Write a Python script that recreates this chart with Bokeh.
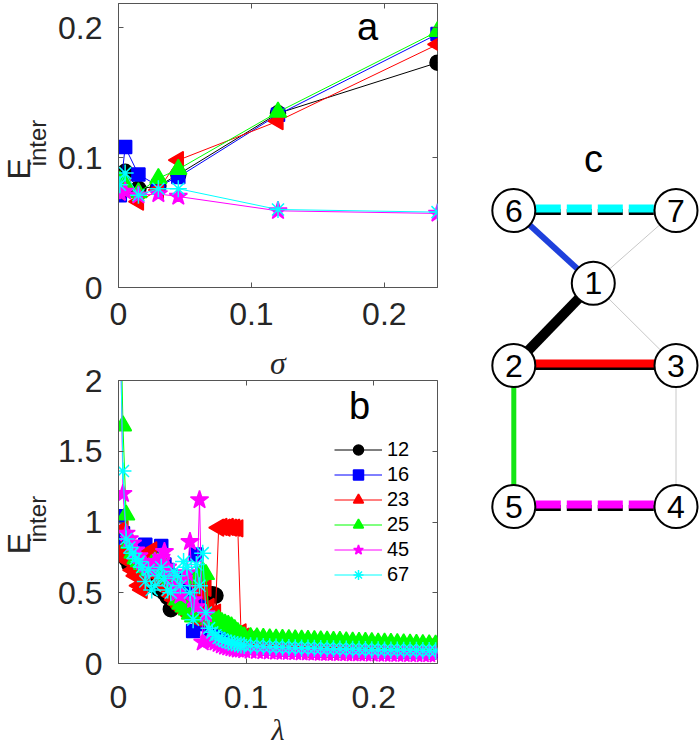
import math
from bokeh.plotting import figure
from bokeh.models import (Range1d, FixedTicker, CustomJSTickFormatter, LinearAxis,
                          Label, Legend, LegendItem, Title)
from bokeh.layouts import row, column
from bokeh.embed import file_html
from bokeh.resources import INLINE
from bokeh.core.properties import value

FONT = "Liberation Sans"
SERIF = "Liberation Serif"
AXC = "#555555"
TXT = "#262626"

# ---------------- data: panel a ----------------
sigma = [0.001, 0.005, 0.015, 0.03, 0.045, 0.12, 0.24]
a_12 = [0.074, 0.089, 0.076, 0.078, 0.087, 0.134, 0.173]
a_16 = [0.071, 0.108, 0.087, 0.078, 0.085, 0.133, 0.195]
a_23 = [0.074, 0.077, 0.066, 0.075, 0.098, 0.128, 0.187]
a_25 = [0.082, 0.080, 0.073, 0.084, 0.091, 0.135, 0.197]
a_45 = [0.073, 0.074, 0.071, 0.072, 0.070, 0.059, 0.057]
a_67 = [0.079, 0.088, 0.071, 0.076, 0.076, 0.060, 0.058]

# ---------------- data: panel b ----------------
lam = [0.001, 0.0035, 0.006, 0.0085, 0.011, 0.0135, 0.016, 0.0185, 0.021, 0.0235,
       0.026, 0.0285, 0.031, 0.0335, 0.036, 0.0385, 0.041, 0.0435, 0.046, 0.0485,
       0.051, 0.0535, 0.056, 0.0585, 0.061, 0.0635, 0.066, 0.0685, 0.071, 0.0735,
       0.076, 0.0785, 0.081, 0.0835, 0.086, 0.0885, 0.091, 0.0935, 0.096, 0.0985,
       0.1035, 0.1085, 0.1135, 0.1185, 0.1235, 0.1285, 0.1335, 0.1385, 0.1435, 0.1485,
       0.1535, 0.1585, 0.1635, 0.1685, 0.1735, 0.1785, 0.1835, 0.1885, 0.1935, 0.1985,
       0.2035, 0.2085, 0.2135, 0.2185, 0.2235, 0.2285, 0.2335, 0.2385, 0.2435, 0.2485]
b_12 = [0.875, 0.80, 0.74, 0.70, 0.68, 0.66, 0.63, 0.62, 0.60, 0.58,
        0.56, 0.55, 0.53, 0.52, 0.50, 0.47, 0.384, 0.45, 0.50, 0.48,
        0.46, 0.44, 0.42, 0.40, 0.38, 0.36, 0.34, 0.32, 0.30, 0.49,
        0.48, 0.28, 0.22, 0.20, 0.17, 0.15, 0.14, 0.135, 0.13, 0.128,
        0.125, 0.12, 0.118, 0.115, 0.113, 0.11, 0.108, 0.106, 0.105, 0.103,
        0.102, 0.10, 0.099, 0.098, 0.097, 0.096, 0.095, 0.094, 0.093, 0.093,
        0.092, 0.091, 0.09, 0.09, 0.089, 0.089, 0.088, 0.088, 0.087, 0.087]
b_16 = [1.04, 0.92, 0.86, 0.82, 0.80, 0.78, 0.76, 0.74, 0.84, 0.72,
        0.70, 0.68, 0.70, 0.83, 0.70, 0.66, 0.62, 0.60, 0.56, 0.54,
        0.52, 0.50, 0.60, 0.23, 0.77, 0.45, 0.30, 0.28, 0.25, 0.22,
        0.20, 0.19, 0.18, 0.17, 0.16, 0.155, 0.15, 0.145, 0.14, 0.138,
        0.135, 0.133, 0.13, 0.128, 0.127, 0.125, 0.123, 0.121, 0.12, 0.118,
        0.117, 0.115, 0.114, 0.113, 0.112, 0.11, 0.109, 0.108, 0.107, 0.106,
        0.105, 0.104, 0.104, 0.103, 0.102, 0.101, 0.10, 0.10, 0.099, 0.098]
b_23 = [0.77, 0.95, 0.82, 0.72, 0.66, 0.62, 0.55, 0.52, 0.60, 0.78,
        0.80, 0.70, 0.62, 0.58, 0.55, 0.52, 0.48, 0.45, 0.42, 0.40,
        0.38, 0.36, 0.34, 0.33, 0.325, 0.55, 0.50, 0.535, 0.40, 0.35,
        0.36, 0.96, 0.965, 0.96, 0.965, 0.96, 0.96, 0.955, 0.22, 0.19,
        0.17, 0.15, 0.13, 0.12, 0.11, 0.105, 0.10, 0.095, 0.092, 0.09,
        0.088, 0.087, 0.086, 0.085, 0.085, 0.084, 0.085, 0.086, 0.088, 0.09,
        0.092, 0.095, 0.098, 0.10, 0.103, 0.106, 0.11, 0.113, 0.117, 0.12]
b_25 = [2.8, 1.68, 1.05, 0.85, 0.78, 0.74, 0.72, 0.70, 0.68, 0.66,
        0.70, 0.72, 0.68, 0.74, 0.65, 0.62, 0.60, 0.55, 0.45, 0.42,
        0.40, 0.38, 0.35, 0.33, 0.60, 0.62, 0.65, 0.63, 0.31, 0.30,
        0.30, 0.31, 0.29, 0.28, 0.27, 0.26, 0.24, 0.22, 0.20, 0.19,
        0.185, 0.182, 0.178, 0.176, 0.174, 0.172, 0.17, 0.168, 0.167, 0.165,
        0.163, 0.162, 0.16, 0.158, 0.157, 0.155, 0.153, 0.151, 0.15, 0.148,
        0.146, 0.145, 0.143, 0.141, 0.14, 0.138, 0.136, 0.135, 0.133, 0.132]
b_45 = [2.7, 1.20, 0.92, 0.88, 0.85, 0.80, 0.76, 0.72, 0.70, 0.68,
        0.66, 0.72, 0.70, 0.75, 0.79, 0.68, 0.62, 0.55, 0.50, 0.48,
        0.60, 0.64, 0.86, 0.45, 0.40, 1.156, 0.15, 0.35, 0.17, 0.16,
        0.15, 0.14, 0.13, 0.12, 0.115, 0.11, 0.105, 0.10, 0.10, 0.095,
        0.092, 0.09, 0.088, 0.087, 0.085, 0.084, 0.083, 0.082, 0.08, 0.079,
        0.078, 0.077, 0.076, 0.076, 0.075, 0.074, 0.073, 0.073, 0.072, 0.071,
        0.071, 0.07, 0.07, 0.069, 0.069, 0.068, 0.068, 0.067, 0.067, 0.066]
b_67 = [2.5, 1.36, 0.88, 0.82, 0.78, 0.74, 0.72, 0.68, 0.58, 0.66,
        0.52, 0.55, 0.62, 0.68, 0.60, 0.52, 0.50, 0.65, 0.62, 0.55,
        0.72, 0.68, 0.50, 0.31, 0.70, 0.55, 0.78, 0.36, 0.25, 0.22,
        0.20, 0.18, 0.17, 0.16, 0.15, 0.145, 0.14, 0.135, 0.13, 0.128,
        0.125, 0.123, 0.12, 0.118, 0.116, 0.115, 0.113, 0.112, 0.11, 0.109,
        0.108, 0.106, 0.105, 0.104, 0.103, 0.102, 0.101, 0.10, 0.099, 0.098,
        0.097, 0.096, 0.096, 0.095, 0.094, 0.093, 0.093, 0.092, 0.091, 0.09]

series_names = ["12", "16", "23", "25", "45", "67"]
a_values = [a_12, a_16, a_23, a_25, a_45, a_67]
b_values = [b_12, b_16, b_23, b_25, b_45, b_67]

a_xticks = [0, 0.1, 0.2]
a_yticks = [0, 0.1, 0.2]
b_xticks = [0, 0.1, 0.2]
b_yticks = [0, 0.5, 1, 1.5, 2]

# ---------------- data: panel c (network) ----------------
nodes = ["1", "2", "3", "4", "5", "6", "7"]
node_x = [0.49, 0.0, 1.0, 1.0, 0.0, 0.0, 1.0]
node_y = [0.47, 1.0, 1.0, 1.91, 1.91, 0.0, 0.0]
weak_edges = [("1", "7"), ("1", "3"), ("3", "4")]
strong_edges = [("6", "7"), ("5", "4"), ("6", "1"), ("1", "2"), ("2", "3"), ("2", "5")]

# ---------------- styles ----------------
STYLES = [
    dict(color="black", marker="circle", size=15, angle=0.0),
    dict(color="blue", marker="square", size=13, angle=0.0),
    dict(color="red", marker="triangle", size=17, angle=math.pi / 2),
    dict(color="#00ff00", marker="triangle", size=17, angle=0.0),
    dict(color="#ff00ff", marker="star", size=19, angle=0.0),
    dict(color="cyan", marker="asterisk", size=17, angle=0.0),
]


def base_fig(width, height, xr, yr, mb):
    p = figure(width=width, height=height, x_range=Range1d(*xr), y_range=Range1d(*yr),
               output_backend="svg", toolbar_location=None, title=None,
               min_border_left=mb[0], min_border_right=mb[1],
               min_border_top=mb[2], min_border_bottom=mb[3])
    p.grid.visible = False
    p.outline_line_color = AXC
    p.outline_line_width = 1
    p.background_fill_color = "white"
    p.border_fill_color = "white"
    return p


def text_strip(width, height, xr, yr):
    p = figure(width=width, height=height, x_range=Range1d(*xr), y_range=Range1d(*yr),
               output_backend="svg", toolbar_location=None, title=None,
               x_axis_location=None, y_axis_location=None, min_border=0)
    p.grid.visible = False
    p.outline_line_color = None
    p.background_fill_color = "white"
    p.border_fill_color = "white"
    return p


def style_axes(p, xticks, yticks, xsto):
    fmt = CustomJSTickFormatter(code="return tick.toString()")
    for ax, ticks, sto in ((p.xaxis[0], xticks, xsto), (p.yaxis[0], yticks, 16)):
        ax.ticker = FixedTicker(ticks=ticks)
        ax.formatter = fmt
        ax.major_tick_in = 5
        ax.major_tick_out = 0
        ax.minor_tick_in = 0
        ax.minor_tick_out = 0
        ax.axis_line_color = AXC
        ax.major_tick_line_color = AXC
        ax.major_label_text_font = FONT
        ax.major_label_text_font_size = "32px"
        ax.major_label_text_color = TXT
        ax.major_label_standoff = sto
    for loc, ticks in (("above", xticks), ("right", yticks)):
        ax = LinearAxis(ticker=FixedTicker(ticks=ticks),
                        formatter=CustomJSTickFormatter(code="return ''"),
                        major_label_text_font_size="0px", major_label_standoff=0,
                        major_tick_in=5, major_tick_out=0, minor_tick_in=0, minor_tick_out=0,
                        axis_line_color=None, major_tick_line_color=AXC)
        p.add_layout(ax, loc)


def einter(p, xE, yE, xs, ys):
    p.text([xE], [yE], text=["E"], angle=math.pi / 2, text_font=value(FONT),
           text_font_size="32px", text_color=TXT, text_align="center",
           text_baseline="middle")
    p.text([xs], [ys], text=["inter"], angle=math.pi / 2, text_font=value(FONT),
           text_font_size="24px", text_color=TXT, text_align="center",
           text_baseline="middle")


def corner_label(p, x, y, txt):
    p.add_layout(Label(x=x, y=y, text=txt, text_font=FONT, text_font_size="38px",
                       text_color="black", text_align="center", text_baseline="middle"))


def axis_title(p, txt, loc, size, standoff):
    p.add_layout(Title(text=txt, text_font=SERIF, text_font_style="italic",
                       text_font_size=size, text_color=TXT, align="center",
                       vertical_align="bottom", standoff=standoff, offset=0), loc)


# ---------------- panel a ----------------
la = text_strip(50, 342, (0, 50), (342, 0))
einter(la, 18, 199, 37, 168)

pa = base_fig(410, 342, (0, 0.24), (0, 0.2185), (68, 23, 3, 55))
style_axes(pa, a_xticks, a_yticks, 15)
for vals, st in zip(a_values, STYLES):
    pa.line(sigma, vals, line_color=st["color"], line_width=1)
    pa.scatter(sigma, vals, marker=st["marker"], size=st["size"], angle=st["angle"],
               fill_color=st["color"], line_color=st["color"], line_width=1.5)
corner_label(pa, 0.1874, 0.2007, "a")

# ---------------- panel b ----------------
lb = text_strip(50, 408, (0, 50), (750, 342))
einter(lb, 18, 577, 37, 542)

pb = base_fig(410, 408, (0, 0.25), (0, 2.0), (68, 23, 36, 87))
style_axes(pb, b_xticks, b_yticks, 22)
axis_title(pb, "σ", "above", "32px", 0)   # x-label of panel a, sits above panel b's box
axis_title(pb, "λ", "below", "30px", 0)
items = []
for name, vals, st in zip(series_names, b_values, STYLES):
    lr = pb.line(lam, vals, line_color=st["color"], line_width=1)
    sr = pb.scatter(lam, vals, marker=st["marker"], size=st["size"], angle=st["angle"],
                    fill_color=st["color"], line_color=st["color"], line_width=1.5)
    items.append(LegendItem(label=name, renderers=[lr, sr]))
legend = Legend(items=items, location=(216, 76), label_text_font=FONT,
                label_text_font_size="20px", label_text_color="black",
                glyph_width=48, glyph_height=25, label_height=25, label_standoff=5,
                spacing=0, padding=0, margin=0, border_line_color=None,
                background_fill_alpha=0)
pb.add_layout(legend)
corner_label(pb, 0.1889, 1.821, "b")

# ---------------- panel c ----------------
pc = text_strip(240, 750, (-0.3286, 1.151), (3.484, -1.355))

pos = {n: (x, y) for n, x, y in zip(nodes, node_x, node_y)}
PX = 1.0 / 155.0  # one screen pixel in y data units

for a, b in weak_edges:
    pc.line([pos[a][0], pos[b][0]], [pos[a][1], pos[b][1]], line_color="#c8c8c8", line_width=1)

EDGE_STYLE = {
    ("6", "7"): dict(color="cyan", width=8, dash="25 6", under=True),
    ("5", "4"): dict(color="#ff00ff", width=8, dash="25 6", under=True),
    ("6", "1"): dict(color="#1e40dc", width=6, dash="solid", under=False),
    ("1", "2"): dict(color="black", width=10, dash="solid", under=False),
    ("2", "3"): dict(color="red", width=8, dash="solid", under=True),
    ("2", "5"): dict(color="#14e614", width=5, dash="solid", under=False),
}
for a, b in strong_edges:
    st = EDGE_STYLE[(a, b)]
    xs = [pos[a][0], pos[b][0]]
    ys = [pos[a][1], pos[b][1]]
    if st["under"]:
        pc.line(xs, [y + 1.5 * PX for y in ys], line_color="black", line_width=6,
                line_dash=st["dash"], line_dash_offset=9)
        pc.line(xs, [y - 2 * PX for y in ys], line_color=st["color"], line_width=st["width"],
                line_dash=st["dash"], line_dash_offset=9)
    else:
        pc.line(xs, ys, line_color=st["color"], line_width=st["width"], line_dash=st["dash"])

pc.scatter(node_x, node_y, marker="circle", size=43, fill_color="white",
           line_color="black", line_width=2)
pc.text(node_x, node_y, text=nodes, text_align="center", text_baseline="middle",
        text_font=value(FONT), text_font_size="32px", text_color="black")
corner_label(pc, 0.491, -0.332, "c")

left = column(row(la, pa), row(lb, pb))
layout = row(left, pc)
open("out.html", "w").write(file_html(layout, INLINE))
